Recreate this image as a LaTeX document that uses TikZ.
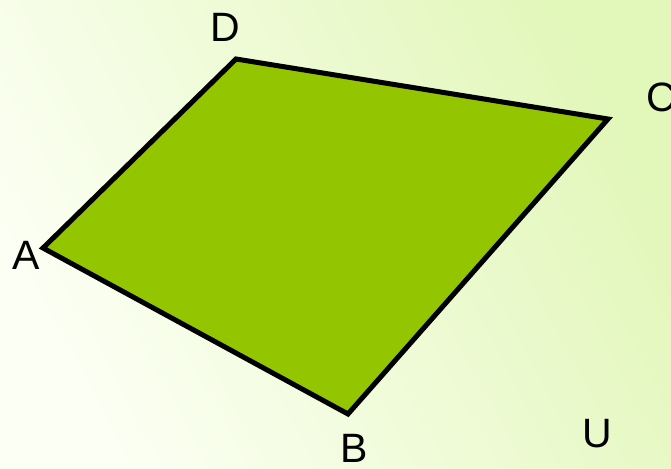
\documentclass[tikz,border=0pt]{standalone}
\usepackage{fontspec}
\setmainfont{Liberation Sans}
\definecolor{quadfill}{HTML}{93C500}
\definecolor{bgUR}{HTML}{E2F7BA}
\definecolor{bgLL}{HTML}{FCFFF4}
\tikzset{
  vlabel/.style={font=\fontsize{41}{41}\selectfont, text=black, inner sep=0pt, anchor=center},
  quad/.style={draw=black, line width=5pt, line join=miter, fill=quadfill}
}
\begin{document}
\begin{tikzpicture}[x=1pt,y=-1pt]
\useasboundingbox (0,0) rectangle (671,468);
\shade[bottom color=bgLL, top color=bgUR, shading angle=-62] (0,468) rectangle (671,0);
\coordinate (A) at (43,248);
\coordinate (D) at (236,59);
\coordinate (C) at (608,119);
\coordinate (B) at (348,414);
\draw[quad] (A) -- (D) -- (C) -- (B) -- cycle;
\node[vlabel] (lD) at (225,27) {D};
\node[vlabel] (lC) at (661,97) {C};
\node[vlabel] (lA) at (26,255) {A};
\node[vlabel] (lB) at (354,448) {B};
\node[vlabel] (lU) at (597,434) {U};
\end{tikzpicture}
\end{document}
